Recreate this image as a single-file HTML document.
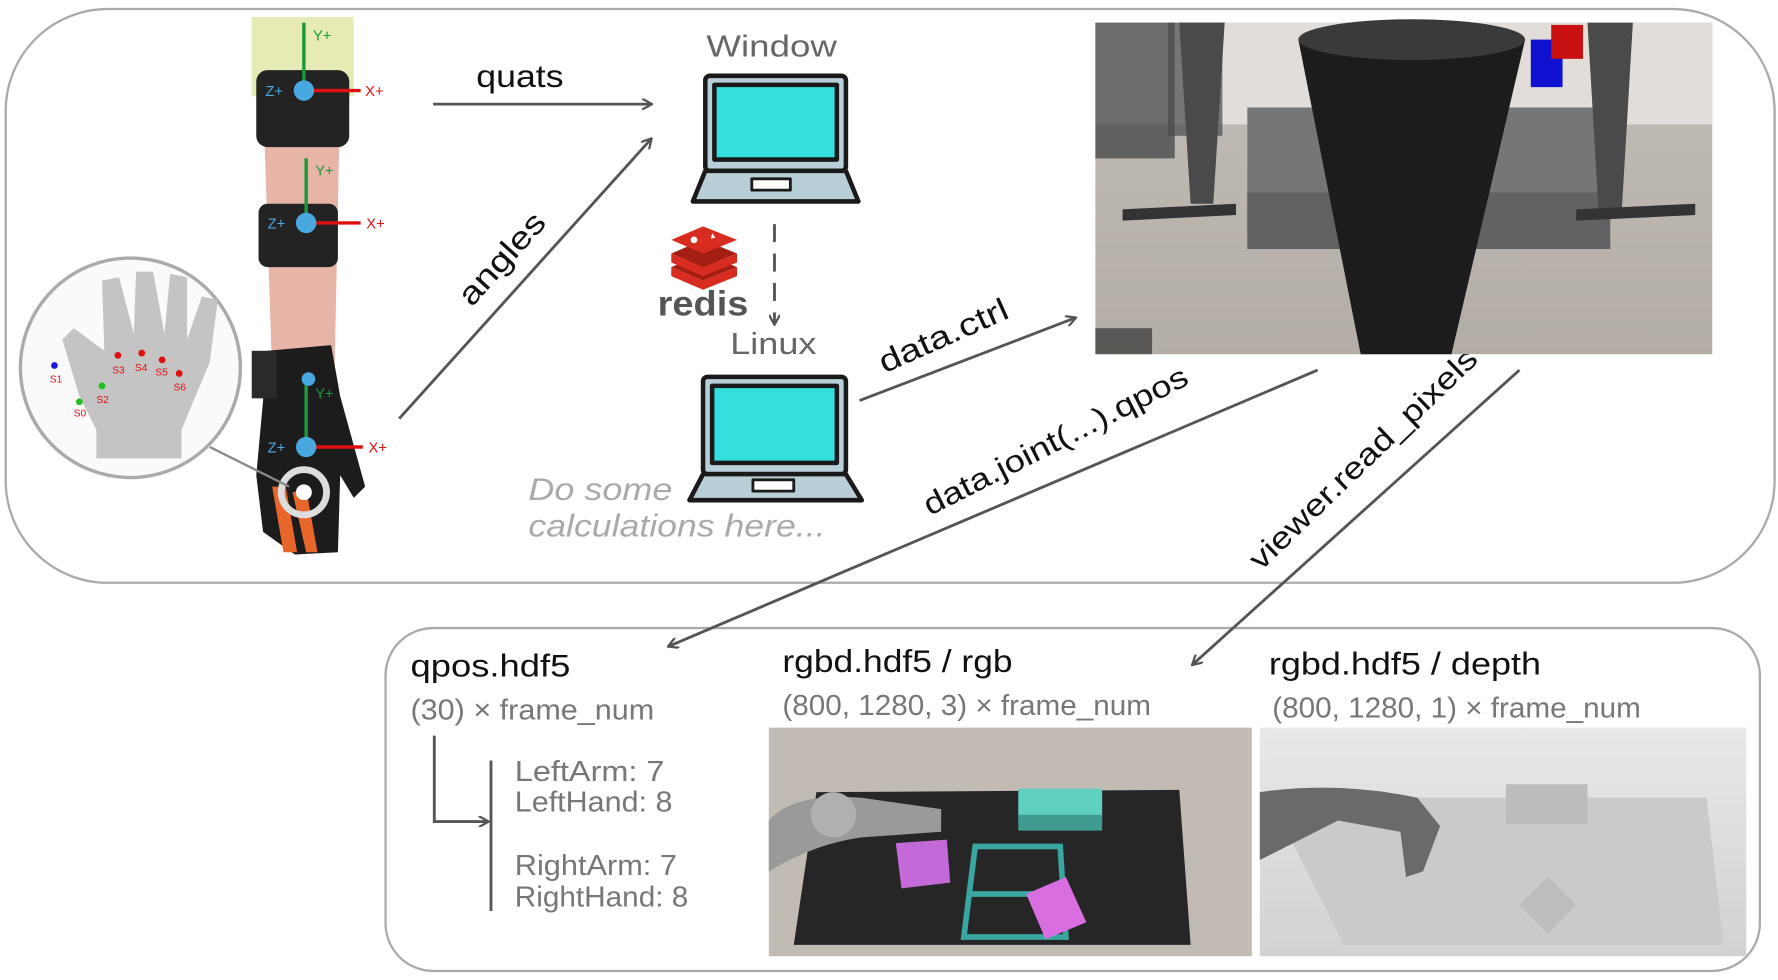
<!DOCTYPE html>
<html><head><meta charset="utf-8"><style>
html,body{margin:0;padding:0;background:#fff;}
svg{display:block;}
text{font-family:"Liberation Sans",sans-serif;}
</style></head><body>
<svg width="1778" height="980" viewBox="0 0 1568 866" preserveAspectRatio="none" xmlns="http://www.w3.org/2000/svg">
<defs>
<marker id="ah" markerWidth="10" markerHeight="10" refX="8" refY="5" orient="auto" markerUnits="userSpaceOnUse">
<path d="M0,0 L9,5 L0,10" fill="none" stroke="#555" stroke-width="2"/>
</marker>
<linearGradient id="dep" x1="0" y1="0" x2="0" y2="1"><stop offset="0" stop-color="#e8e8e8"/><stop offset="1" stop-color="#d2d2d2"/></linearGradient>
<linearGradient id="floor" x1="0" y1="0" x2="0" y2="1"><stop offset="0" stop-color="#c4beb8"/><stop offset="1" stop-color="#b3ada6"/></linearGradient>
</defs>

<rect x="5" y="8" width="1560" height="507" rx="90" fill="none" stroke="#aaa" stroke-width="2"/>
<rect x="340" y="555" width="1212" height="303" rx="42" fill="none" stroke="#aaa" stroke-width="2"/>

<!-- arm -->
<rect x="222" y="15" width="90" height="70" fill="#e6eab4"/>
<path d="M232,85 L300,85 L295,330 L240,330 Z" fill="#e7b4a8"/>
<rect x="226" y="62" width="82" height="68" rx="10" fill="#232323"/>
<rect x="228" y="180" width="70" height="56" rx="8" fill="#232323"/>
<path d="M236,310 L292,305 L300,350 L322,430 L312,440 L300,420 L298,488 L260,490 L232,470 L226,420 Z" fill="#1c1c1c"/>
<rect x="222" y="310" width="22" height="42" fill="#2a2a2a"/>
<path d="M240,430 L252,430 L262,488 L250,488 Z M258,435 L270,432 L280,488 L270,488 Z" fill="#e8662a"/>
<circle cx="268" cy="435" r="20" fill="none" stroke="#ddd" stroke-width="6"/>
<circle cx="268" cy="435" r="7" fill="#fff"/>
<g stroke-width="3">
<line x1="268" y1="80" x2="268" y2="20" stroke="#1a9a3a"/><line x1="268" y1="80" x2="318" y2="80" stroke="#e01010"/>
<line x1="270" y1="197" x2="270" y2="140" stroke="#1a9a3a"/><line x1="270" y1="197" x2="318" y2="197" stroke="#e01010"/>
<line x1="270" y1="395" x2="270" y2="335" stroke="#1a9a3a"/><line x1="270" y1="395" x2="320" y2="395" stroke="#e01010"/>
</g>
<circle cx="268" cy="80" r="9" fill="#4aa8e0"/><circle cx="270" cy="197" r="9" fill="#4aa8e0"/><circle cx="270" cy="395" r="9" fill="#4aa8e0"/><circle cx="272" cy="335" r="6" fill="#4aa8e0"/>
<g font-size="13" fill="#e01010"><text x="322" y="85">X+</text><text x="323" y="202">X+</text><text x="325" y="400">X+</text></g>
<g font-size="13" fill="#1a9a3a"><text x="276" y="36">Y+</text><text x="278" y="155">Y+</text><text x="278" y="352">Y+</text></g>
<g font-size="13" fill="#4aa8e0"><text x="234" y="85">Z+</text><text x="236" y="202">Z+</text><text x="236" y="400">Z+</text></g>
<path d="M185,395 L255,430" stroke="#888" stroke-width="2"/>
<circle cx="115" cy="325" r="97" fill="#fafafa" stroke="#aaa" stroke-width="3"/>
<path d="M85,405 L160,405 L160,380 L185,320 L192,265 L178,262 L165,300 L165,245 L150,242 L145,295 L135,240 L120,240 L118,295 L105,245 L90,248 L92,310 L65,290 L55,300 L70,350 L85,380 Z" fill="#c4c4c4"/>
<g><circle cx="48" cy="323" r="3" fill="#1a1ae0"/><circle cx="70" cy="355" r="3" fill="#20c020"/><circle cx="90" cy="341" r="3" fill="#20c020"/><circle cx="104" cy="314" r="3" fill="#e01010"/><circle cx="125" cy="312" r="3" fill="#e01010"/><circle cx="143" cy="318" r="3" fill="#e01010"/><circle cx="158" cy="330" r="3" fill="#e01010"/></g>
<g font-size="9" fill="#e01010"><text x="44" y="338">S1</text><text x="65" y="368">S0</text><text x="85" y="356">S2</text><text x="99" y="330">S3</text><text x="119" y="328">S4</text><text x="137" y="332">S5</text><text x="153" y="345">S6</text></g>

<g stroke="#555" stroke-width="2.5" fill="none" marker-end="url(#ah)">
<line x1="382" y1="92" x2="574" y2="92"/>
<line x1="352" y1="370" x2="574" y2="123"/>
<line x1="758" y1="354" x2="948" y2="281"/>
<line x1="683" y1="198" x2="683" y2="286" stroke-dasharray="16,10"/>
<line x1="1162" y1="327" x2="590" y2="571"/>
<line x1="1340" y1="327" x2="1052" y2="587"/>
</g>

<g lengthAdjust="spacingAndGlyphs">
<text x="420" y="77" font-size="28" fill="#111" textLength="77" lengthAdjust="spacingAndGlyphs">quats</text>
<text x="0" y="0" font-size="28" fill="#111" transform="translate(416,272) rotate(-48)" textLength="100" lengthAdjust="spacingAndGlyphs">angles</text>
<text x="0" y="0" font-size="28" fill="#111" transform="translate(780,330) rotate(-24)" textLength="122" lengthAdjust="spacingAndGlyphs">data.ctrl</text>
<text x="0" y="0" font-size="27" fill="#111" transform="translate(820,456) rotate(-27)" textLength="258" lengthAdjust="spacingAndGlyphs">data.joint(...).qpos</text>
<text x="0" y="0" font-size="27" fill="#111" transform="translate(1112,505) rotate(-44)" textLength="268" lengthAdjust="spacingAndGlyphs">viewer.read_pixels</text>
<text x="623" y="50" font-size="27" fill="#666" textLength="115" lengthAdjust="spacingAndGlyphs">Window</text>
<text x="644" y="313" font-size="27" fill="#666" textLength="76" lengthAdjust="spacingAndGlyphs">Linux</text>
<text x="466" y="442" font-size="28" fill="#aaa" font-style="italic" textLength="127" lengthAdjust="spacingAndGlyphs">Do some</text>
<text x="466" y="474" font-size="28" fill="#aaa" font-style="italic" textLength="262" lengthAdjust="spacingAndGlyphs">calculations here...</text>
</g>

<g stroke="#1a1a1a" stroke-width="4" stroke-linejoin="round">
<rect x="622" y="67" width="124" height="84" rx="4" fill="#b9cfd8"/>
<rect x="630" y="75" width="108" height="66" fill="#33e0dd"/>
<path d="M622,151 L746,151 L757,178 L611,178 Z" fill="#b9cfd8"/>
<rect x="663" y="158" width="34" height="10" fill="#fff" stroke-width="2.5"/>
<rect x="620" y="333" width="126" height="86" rx="4" fill="#b9cfd8"/>
<rect x="628" y="341" width="110" height="68" fill="#33e0dd"/>
<path d="M620,419 L746,419 L760,442 L608,442 Z" fill="#b9cfd8"/>
<rect x="664" y="424" width="36" height="10" fill="#fff" stroke-width="2.5"/>
</g>

<g>
<path d="M592,236 L620,224 L650,236 L620,248 Z" fill="#a41e11"/>
<path d="M592,236 L592,244 L620,256 L650,244 L650,236 L620,248 Z" fill="#d82c20"/>
<path d="M592,224 L620,212 L650,224 L620,236 Z" fill="#a41e11"/>
<path d="M592,224 L592,232 L620,244 L650,232 L650,224 L620,236 Z" fill="#d82c20"/>
<path d="M592,212 L620,200 L650,212 L620,224 Z" fill="#d82c20"/>
<circle cx="612" cy="212" r="3" fill="#fff"/><path d="M628,206 l3,4 l-4,1z" fill="#fff"/>
<text x="580" y="279" font-size="31" font-weight="bold" fill="#555" textLength="80" lengthAdjust="spacingAndGlyphs">redis</text>
</g>

<!-- top-right screenshot -->
<rect x="966" y="20" width="544" height="293" fill="url(#floor)"/>
<rect x="966" y="20" width="544" height="90" fill="#e2ddd8"/>
<rect x="1100" y="95" width="320" height="125" fill="#767676"/>
<rect x="1100" y="170" width="320" height="50" fill="#626262"/>
<path d="M1145,35 Q1240,15 1345,35 L1280,313 L1200,313 Z" fill="#1c1c1c"/>
<ellipse cx="1245" cy="35" rx="100" ry="18" fill="#3a3a3a"/>
<rect x="966" y="20" width="70" height="120" fill="#3c3c3c" opacity="0.7"/>
<rect x="1030" y="20" width="48" height="100" fill="#4a4a4a" opacity="0.7"/>
<rect x="966" y="290" width="50" height="23" fill="#333" opacity="0.7"/>
<rect x="1350" y="35" width="28" height="42" fill="#1010d0"/><rect x="1368" y="22" width="28" height="30" fill="#c81010"/>
<path d="M1040,20 L1080,20 L1070,180 L1050,180 Z" fill="#4a4a4a"/>
<path d="M1400,20 L1440,20 L1430,190 L1410,190 Z" fill="#4a4a4a"/>
<path d="M990,185 L1090,180 L1090,190 L990,195 Z" fill="#333"/>
<path d="M1390,185 L1495,180 L1495,190 L1390,195 Z" fill="#333"/>

<text x="362" y="598" font-size="28" fill="#111" textLength="141" lengthAdjust="spacingAndGlyphs">qpos.hdf5</text>
<text x="690" y="594" font-size="28" fill="#111" textLength="203" lengthAdjust="spacingAndGlyphs">rgbd.hdf5 / rgb</text>
<text x="1119" y="596" font-size="28" fill="#111" textLength="240" lengthAdjust="spacingAndGlyphs">rgbd.hdf5 / depth</text>
<text x="362" y="636" font-size="25" fill="#777" textLength="215" lengthAdjust="spacingAndGlyphs">(30) × frame_num</text>
<text x="690" y="632" font-size="25" fill="#777" textLength="325" lengthAdjust="spacingAndGlyphs">(800, 1280, 3) × frame_num</text>
<text x="1122" y="634" font-size="25" fill="#777" textLength="325" lengthAdjust="spacingAndGlyphs">(800, 1280, 1) × frame_num</text>
<g stroke="#555" stroke-width="2.5" fill="none">
<path d="M383,650 L383,726 L430,726" marker-end="url(#ah)"/>
<line x1="433" y1="672" x2="433" y2="805"/>
</g>
<g font-size="25" fill="#777">
<text x="454" y="690" textLength="132" lengthAdjust="spacingAndGlyphs">LeftArm:  7</text><text x="454" y="717" textLength="139" lengthAdjust="spacingAndGlyphs">LeftHand: 8</text>
<text x="454" y="773" textLength="143" lengthAdjust="spacingAndGlyphs">RightArm: 7</text><text x="454" y="801" textLength="153" lengthAdjust="spacingAndGlyphs">RightHand: 8</text>
</g>

<rect x="678" y="643" width="426" height="202" fill="#c2bbb3"/>
<path d="M720,700 L1040,698 L1050,835 L700,835 Z" fill="#262626"/>
<rect x="898" y="697" width="74" height="28" fill="#5fcfbf"/>
<rect x="898" y="720" width="74" height="14" fill="#3f9a8f"/>
<path d="M860,748 L935,748 L940,828 L850,828 Z" fill="none" stroke="#3aa6a0" stroke-width="5"/>
<line x1="855" y1="790" x2="938" y2="790" stroke="#3aa6a0" stroke-width="5"/>
<path d="M905,790 L940,775 L958,815 L922,830 Z" fill="#d86ee0"/>
<path d="M790,745 L835,742 L838,780 L795,785 Z" fill="#c36ad8"/>
<path d="M678,725 Q700,700 760,705 L830,715 L830,735 L760,740 Q720,745 678,770 Z" fill="#9a9a9a"/>
<circle cx="735" cy="720" r="20" fill="#b0b0b0"/>

<rect x="1111" y="643" width="429" height="202" fill="url(#dep)"/>
<path d="M1120,705 L1505,705 L1520,835 L1185,835 Z" fill="#cacaca"/>
<rect x="1328" y="693" width="72" height="35" fill="#bcbcbc"/>
<path d="M1111,700 Q1180,690 1250,705 L1270,730 L1255,770 L1240,775 L1235,735 L1180,725 L1111,760 Z" fill="#6a6a6a"/>
<path d="M1340,800 L1365,775 L1390,800 L1365,825 Z" fill="#bdbdbd"/>
</svg>
</body></html>
